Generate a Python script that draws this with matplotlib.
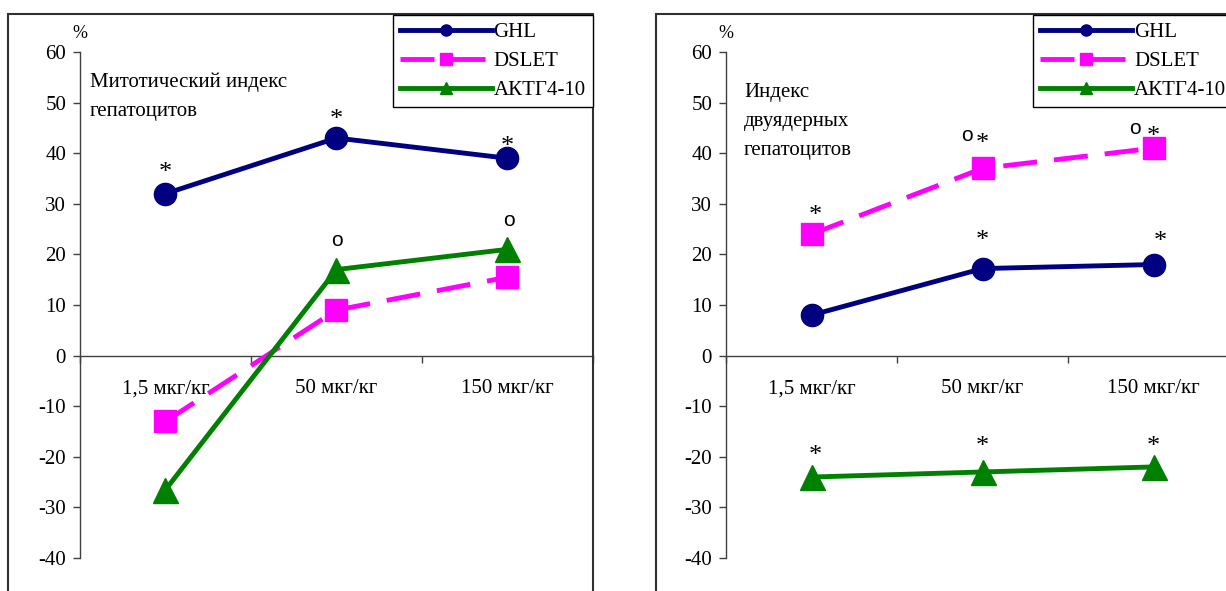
import matplotlib
matplotlib.use("Agg")
import matplotlib.pyplot as plt
from matplotlib.patches import Rectangle

plt.rcParams['font.family'] = ['Liberation Serif', 'DejaVu Serif']
plt.rcParams['axes.unicode_minus'] = False

categories = ['1,5 мкг/кг', '50 мкг/кг', '150 мкг/кг']
series_names = ['GHL', 'DSLET', 'АКТГ4-10']

# left panel: mitotic index
mito_ghl = [32, 43, 39]
mito_dslet = [-13, 9, 15.5]
mito_aktg = [-26.5, 17, 21]

# right panel: binuclear index
binuc_ghl = [8, 17.2, 18]
binuc_dslet = [24, 37, 41]
binuc_aktg = [-24, -23, -22]

# significance marks: (series index, point index, symbol, dx px, dy px)
mito_marks = [(0, 0, '*', 0, 25), (0, 1, '*', 0, 22), (0, 2, '*', 0, 15),
              (2, 1, 'o', 0, 28), (2, 2, 'o', 1, 28)]
binuc_marks = [(1, 0, '*', 4, 22), (1, 1, 'o', -16, 32), (1, 1, '*', 0, 28),
               (1, 2, 'o', -19, 19), (1, 2, '*', 0, 15),
               (0, 1, '*', 0, 32), (0, 2, '*', 7, 27),
               (2, 0, '*', 4, 25), (2, 1, '*', 0, 29), (2, 2, '*', 0, 24)]

colors = ['#000080', '#ff00ff', '#008000']
markers = ['o', 's', '^']
msizes = [16, 16, 18]

W, H = 1226, 591
fig = plt.figure(figsize=(W / 100, H / 100), dpi=100)


def px(x, y):
    return x / W, 1 - y / H


def panel(x0, title, data, marks, legend_anchor, legend_loc, title_pos):
    ax = fig.add_axes([x0 / W, 33 / H, 513 / W, 506 / H])
    ax.set_xlim(0, 3)
    ax.set_ylim(-40, 60)
    xs = [0.5, 1.5, 2.5]
    handles = []
    for i, vals in enumerate(data):
        ls = (0, (7, 3.5)) if i == 1 else '-'
        h, = ax.plot(xs, vals, color=colors[i], lw=3.5, ls=ls, marker=markers[i],
                     ms=msizes[i], mec=colors[i], clip_on=False, zorder=3)
        handles.append(h)
    for si, pi, sym, dx, dy in marks:
        if sym == '*':
            fam, fs = 'Liberation Serif', 19
            dy2 = dy - 4
        else:
            fam, fs = 'Liberation Sans', 15
            dy2 = dy + 1
        ax.annotate(sym, (xs[pi], data[si][pi]), xytext=(dx * 0.72, dy2 * 0.72),
                    textcoords='offset points', ha='center', va='center',
                    fontsize=fs, family=fam, zorder=4, annotation_clip=False)
    for s in ['top', 'right']:
        ax.spines[s].set_visible(False)
    ax.spines['bottom'].set_position(('data', 0))
    for s in ['left', 'bottom']:
        ax.spines[s].set_color('#404040')
        ax.spines[s].set_linewidth(1)
    ax.set_yticks(range(-40, 61, 10))
    ax.set_xticks([0, 1, 2, 3])
    ax.set_xticklabels([])
    ax.set_xticks(xs, categories, minor=True)
    ax.tick_params(axis='y', direction='out', length=5, width=1, color='#404040',
                   labelsize=15, pad=5)
    ax.tick_params(axis='x', which='major', direction='out', length=5, width=1,
                   color='#404040')
    ax.tick_params(axis='x', which='minor', length=0, labelsize=15, pad=17)
    ax.patch.set_alpha(0)
    fig.text(*px(x0, 42), '%', fontsize=13, ha='center', va='bottom')
    fig.text(*px(*title_pos), title, fontsize=15, ha='left', va='top',
             linespacing=1.72)
    leg = fig.legend(handles, series_names, loc=legend_loc,
                     bbox_to_anchor=px(*legend_anchor), fontsize=15,
                     handlelength=4.4, handletextpad=0.1, markerscale=0.5,
                     fancybox=False, shadow=False, framealpha=1,
                     edgecolor='black', borderpad=0.35, labelspacing=0.45,
                     borderaxespad=0)
    leg.get_frame().set_linewidth(1)
    return ax


panel(80, 'Митотический индекс\nгепатоцитов',
      [mito_ghl, mito_dslet, mito_aktg], mito_marks,
      (593, 15), 'upper right', (90, 72))
panel(726, 'Индекс\nдвуядерных\nгепатоцитов',
      [binuc_ghl, binuc_dslet, binuc_aktg], binuc_marks,
      (1033, 15), 'upper left', (744, 83))

for x0, w in [(8, 585), (656, 600)]:
    fig.patches.append(Rectangle(px(x0, 600), w / W, 586 / H, fill=False,
                                 ec='#303030', lw=1.5, transform=fig.transFigure))

fig.savefig('out.png', dpi=100)
